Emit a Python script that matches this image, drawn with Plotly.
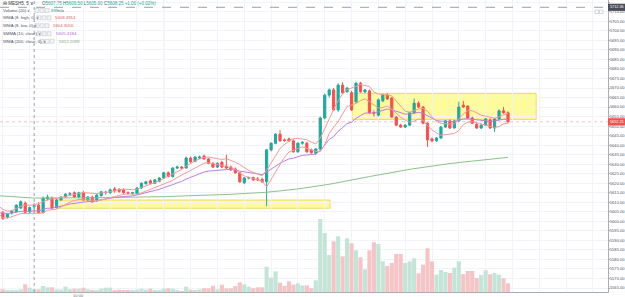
import plotly.graph_objects as go

# ---------------- data ----------------
symbol = "MESH5, 5"
bar_index = list(range(115))

opens = [
    5607.0, 5604.5, 5602.25, 5604.5, 5605.0, 5607.0, 5609.5, 5605.0, 5607.75, 5608.5,
    5604.75, 5611.75, 5612.25, 5607.25, 5611.25, 5612.75, 5614.25, 5615.0, 5612.75, 5615.0,
    5611.25, 5612.75, 5610.75, 5613.5, 5615.0, 5615.0, 5617.0, 5616.5, 5616.5, 5615.0,
    5614.75, 5614.5, 5617.5, 5619.75, 5621.25, 5620.0, 5621.0, 5622.75, 5625.5, 5623.5,
    5628.0, 5628.5, 5628.0, 5633.25, 5631.5, 5633.25, 5634.25, 5632.75, 5630.5, 5628.5,
    5631.0, 5629.0, 5628.5, 5627.5, 5625.5, 5620.25, 5622.75, 5623.0, 5622.25, 5622.0,
    5620.75, 5637.5, 5641.0, 5645.75, 5642.75, 5643.25, 5642.25, 5636.5, 5641.0, 5641.0,
    5637.5, 5635.75, 5638.0, 5654.25, 5666.25, 5669.0, 5658.5, 5671.5, 5668.0, 5667.5,
    5662.75, 5672.5, 5668.0, 5668.5, 5657.0, 5655.75, 5663.25, 5666.25, 5664.75, 5654.75,
    5650.5, 5649.5, 5650.5, 5657.0, 5662.0, 5660.0, 5651.5, 5643.25, 5642.25, 5643.75,
    5649.5, 5652.75, 5649.0, 5652.75, 5661.0, 5660.5, 5654.25, 5651.0, 5649.0, 5650.5,
    5653.25, 5649.0, 5653.75, 5658.0, 5657.0]

highs = [
    5608.0, 5605.5, 5604.25, 5606.0, 5609.0, 5611.0, 5610.5, 5607.75, 5609.5, 5610.0,
    5613.0, 5614.0, 5613.0, 5611.75, 5613.25, 5614.75, 5615.25, 5615.75, 5615.5, 5616.0,
    5613.25, 5613.5, 5614.5, 5616.0, 5616.0, 5617.25, 5618.0, 5617.5, 5617.25, 5615.75,
    5615.5, 5618.0, 5620.5, 5621.25, 5622.0, 5622.25, 5623.25, 5626.0, 5626.25, 5628.5,
    5629.25, 5629.0, 5634.0, 5634.0, 5634.25, 5634.5, 5635.0, 5633.25, 5631.0, 5631.0,
    5631.75, 5635.0, 5629.25, 5628.25, 5626.0, 5623.25, 5623.5, 5623.5, 5623.25, 5623.0,
    5638.0, 5641.5, 5646.25, 5648.0, 5643.5, 5644.0, 5643.0, 5641.5, 5642.0, 5641.75,
    5638.25, 5638.5, 5655.0, 5667.0, 5669.75, 5670.0, 5672.5, 5673.0, 5670.5, 5668.5,
    5673.25, 5673.25, 5669.5, 5669.25, 5658.25, 5664.5, 5667.0, 5667.25, 5665.25, 5655.25,
    5651.25, 5651.0, 5657.5, 5664.5, 5663.0, 5660.5, 5652.0, 5644.0, 5644.25, 5650.0,
    5653.25, 5653.5, 5653.25, 5662.75, 5663.25, 5661.0, 5655.0, 5651.5, 5651.0, 5654.25,
    5654.0, 5654.25, 5658.75, 5660.0, 5657.75]

lows = [
    5604.0, 5600.75, 5601.5, 5603.5, 5604.5, 5606.5, 5604.0, 5604.25, 5605.0, 5604.0,
    5604.0, 5611.0, 5606.5, 5606.75, 5610.75, 5612.25, 5613.5, 5612.25, 5612.0, 5610.75,
    5610.5, 5609.75, 5610.25, 5613.0, 5614.0, 5614.5, 5615.0, 5615.0, 5614.5, 5614.25,
    5614.0, 5614.0, 5617.0, 5619.25, 5619.5, 5619.5, 5620.5, 5622.25, 5623.0, 5623.0,
    5627.5, 5627.5, 5627.75, 5630.75, 5631.0, 5632.75, 5632.25, 5630.0, 5628.0, 5628.0,
    5628.0, 5627.5, 5626.5, 5625.0, 5620.25, 5619.5, 5622.0, 5621.25, 5621.25, 5620.25,
    5608.0, 5636.75, 5640.5, 5641.75, 5641.75, 5641.5, 5636.0, 5636.0, 5640.25, 5636.0,
    5635.5, 5635.0, 5637.0, 5653.5, 5665.0, 5658.0, 5657.5, 5667.0, 5667.5, 5658.0,
    5662.0, 5667.5, 5667.25, 5656.5, 5655.0, 5655.0, 5662.5, 5663.75, 5654.25, 5650.0,
    5649.0, 5649.0, 5650.0, 5656.5, 5659.5, 5651.0, 5639.0, 5641.5, 5641.75, 5643.25,
    5649.0, 5648.5, 5648.75, 5652.25, 5659.5, 5653.75, 5651.0, 5648.5, 5648.5, 5650.0,
    5648.5, 5647.0, 5653.25, 5656.5, 5651.75]

closes = [
    5604.5, 5601.5, 5603.75, 5605.5, 5608.5, 5610.25, 5604.75, 5607.25, 5608.25, 5604.5,
    5612.25, 5612.75, 5607.0, 5611.25, 5612.75, 5614.25, 5614.5, 5612.75, 5615.0, 5611.25,
    5612.75, 5610.25, 5613.75, 5615.5, 5615.25, 5616.5, 5616.0, 5615.75, 5615.0, 5614.75,
    5615.0, 5617.5, 5620.0, 5620.75, 5620.0, 5621.75, 5622.75, 5625.5, 5623.5, 5628.0,
    5628.5, 5628.0, 5633.25, 5631.25, 5633.75, 5633.75, 5632.75, 5630.5, 5628.5, 5630.5,
    5628.5, 5628.0, 5627.0, 5625.5, 5620.75, 5622.75, 5623.0, 5621.75, 5621.75, 5620.75,
    5637.5, 5641.0, 5645.75, 5642.25, 5642.5, 5642.25, 5636.5, 5641.0, 5641.5, 5636.5,
    5636.0, 5638.0, 5654.25, 5666.25, 5669.0, 5658.5, 5671.5, 5667.5, 5670.0, 5658.5,
    5672.5, 5668.0, 5669.0, 5657.0, 5656.75, 5663.75, 5666.25, 5664.25, 5654.75, 5650.5,
    5649.5, 5650.5, 5657.0, 5662.0, 5660.0, 5651.5, 5642.75, 5642.25, 5643.75, 5649.5,
    5652.75, 5649.0, 5652.75, 5660.0, 5660.0, 5654.25, 5651.5, 5649.0, 5650.5, 5653.75,
    5649.0, 5653.75, 5658.0, 5657.0, 5652.25]

volumes = [
    1100, 888, 555, 555, 666, 888, 2553, 1443, 899, 888,
    1998, 1554, 1554, 888, 777, 1776, 888, 1110, 1110, 1443,
    888, 555, 666, 1110, 1443, 1443, 555, 777, 666, 666,
    666, 777, 1110, 777, 1110, 555, 555, 1110, 1221, 1110,
    666, 333, 1776, 777, 555, 888, 1221, 1221, 2109, 888,
    2442, 1221, 1221, 1998, 3219, 2553, 1776, 1221, 1554, 1554,
    8436, 4773, 6882, 3108, 1998, 3552, 2442, 2886, 2220, 2220,
    1221, 3885, 24309, 19647, 12321, 16872, 18537, 11877, 17871, 16206,
    13875, 11544, 7548, 13875, 16539, 15984, 10212, 8658, 9657, 12654,
    12654, 9657, 10212, 11211, 6216, 9102, 14541, 10212, 5772, 7326,
    6660, 6327, 8103, 10212, 5994, 6993, 6993, 4662, 5661, 7215,
    5883, 6327, 5772, 4551, 2886]

# WMA(200, close) at a few bars
wma200_idx = [0, 8, 22, 37, 52, 60, 67, 74, 83, 92, 101, 114]
wma200_val = [5613.45, 5612.21, 5612.4, 5612.95, 5614.2, 5615.25, 5617.0,
              5619.45, 5623.5, 5627.3, 5630.35, 5633.6]

price_ticks = [5565, 5570, 5575, 5580, 5585, 5590, 5595, 5600, 5605, 5610,
               5615, 5620, 5625, 5630, 5635, 5640, 5645, 5650, 5655, 5660,
               5665, 5670, 5675, 5680, 5685, 5690, 5695, 5700, 5705, 5710, 5715]

cursor_bar = 8
cursor_price = 5712.36
legend_ohlc = ("5607.75", "5609.50", "5605.00", "5608.25", "+1.00 (+0.02%)")
legend_volume = "899"
legend_wma8h = "5608.4914"
legend_wma8l = "5604.3056"
legend_smma10 = "5605.4184"
legend_wma200 = "5612.2099"
time_label = "10:00"

n = len(bar_index)
assert all(len(a) == n for a in (opens, highs, lows, closes, volumes))

# ---------------- indicators ----------------
def wma(vals, length):
    out = []
    for i in range(len(vals)):
        w = vals[max(0, i - length + 1): i + 1]
        ws = list(range(1, len(w) + 1))
        out.append(sum(a * b for a, b in zip(w, ws)) / sum(ws))
    return out

def smma(vals, length):
    out = []
    s = vals[0]
    for v in vals:
        s = (s * (length - 1) + v) / length
        out.append(s)
    return out

wma8h = wma(highs, 8)
wma8l = wma(lows, 8)
smma10 = smma(closes, 10)

# ---------------- geometry helpers ----------------
W, H = 625, 297
PW, PH = 608, 292
YMIN, YMAX = 5562.9, 5716.2
XMIN, XMAX = 0.358, 136.37

def px(xp):
    return xp / PW

def py(yp):
    return 1 - yp / PH

def price_to_paper(p):
    return (p - YMIN) / (YMAX - YMIN)

GREEN = "#26a69a"
RED = "#ef5350"
vol_colors = ["#c3e4d6" if c >= o else "#f5c4c7" for o, c in zip(opens, closes)]

fig = go.Figure()

fig.add_trace(go.Bar(x=bar_index, y=volumes, yaxis="y2", marker=dict(color=vol_colors, line=dict(width=0)),
                     hoverinfo="skip", showlegend=False))

fig.add_trace(go.Scatter(x=wma200_idx, y=wma200_val, mode="lines",
                         line=dict(color="#8cc28c", width=1), hoverinfo="skip", showlegend=False))
fig.add_trace(go.Scatter(x=bar_index, y=smma10, mode="lines",
                         line=dict(color="#c07ddc", width=1), hoverinfo="skip", showlegend=False))
fig.add_trace(go.Scatter(x=bar_index, y=wma8h, mode="lines",
                         line=dict(color="#f19a9a", width=1), hoverinfo="skip", showlegend=False))
fig.add_trace(go.Scatter(x=bar_index, y=wma8l, mode="lines",
                         line=dict(color="#f19a9a", width=1), hoverinfo="skip", showlegend=False))

fig.add_trace(go.Candlestick(
    x=bar_index, open=opens, high=highs, low=lows, close=closes,
    increasing=dict(line=dict(color=GREEN, width=1), fillcolor=GREEN),
    decreasing=dict(line=dict(color=RED, width=1), fillcolor=RED),
    whiskerwidth=0, hoverinfo="skip", showlegend=False))

shapes = []
# yellow zones
shapes.append(dict(type="rect", xref="x", yref="y", x0=13.1, x1=74.2, y0=5606.85, y1=5611.2,
                   fillcolor="rgba(255,244,80,0.55)", line=dict(color="rgba(225,205,60,0.7)", width=1), layer="below"))
shapes.append(dict(type="rect", xref="x", yref="y", x0=79.1, x1=120.3, y0=5653.5, y1=5667.2,
                   fillcolor="rgba(255,244,80,0.55)", line=dict(color="rgba(225,205,60,0.7)", width=1), layer="below"))
# session lines
for sx in (13, 37, 79):
    shapes.append(dict(type="line", xref="x", yref="paper", x0=sx, x1=sx, y0=0, y1=1,
                       line=dict(color="rgba(140,190,230,0.35)", width=1), layer="below"))
# last price line
shapes.append(dict(type="line", xref="paper", yref="y", x0=0, x1=1, y0=closes[-1], y1=closes[-1],
                   line=dict(color="rgba(239,83,80,0.35)", width=1, dash="dot")))
# crosshair
shapes.append(dict(type="line", xref="x", yref="paper", x0=cursor_bar, x1=cursor_bar, y0=0, y1=1,
                   line=dict(color="#9aa0aa", width=1, dash="dot")))
shapes.append(dict(type="line", xref="paper", yref="y", x0=0, x1=1, y0=cursor_price, y1=cursor_price,
                   line=dict(color="#9aa0aa", width=1, dash="dash")))

FONT = "Liberation Sans, Arial, sans-serif"
TXT = "#50535e"
AXFONT = 4.1

annotations = []
# price labels on the axis
for p, col, txt in ((cursor_price, "#4a4e58", f"{cursor_price:.2f}"),
                    (closes[-1], RED, f"{closes[-1]:.2f}")):
    yc = price_to_paper(p)
    shapes.append(dict(type="rect", xref="paper", yref="paper", x0=1.0, x1=W / PW,
                       y0=yc - 3.6 / PH, y1=yc + 3.6 / PH, fillcolor=col, line=dict(width=0)))
    annotations.append(dict(xref="paper", yref="paper", x=px(608.6), y=yc, text=txt, showarrow=False,
                            xanchor="left", yanchor="middle", borderpad=0,
                            font=dict(size=3.8, color="white", family=FONT)))

# tiny icons at top right
for x0 in (595, 599.5):
    shapes.append(dict(type="rect", xref="paper", yref="paper", x0=px(x0), x1=px(x0 + 3.5),
                       y0=py(13.5), y1=py(10), line=dict(color="#b8bcc6", width=0.6), fillcolor="white"))


def label(x, y, text, color=TXT, size=4.3):
    annotations.append(dict(xref="paper", yref="paper", x=px(x), y=py(y), text=text, showarrow=False,
                            xanchor="left", yanchor="middle", font=dict(size=size, color=color, family=FONT)))

def icons(x0, y):
    for k in range(3):
        xa = x0 + k * 5
        shapes.append(dict(type="rect", xref="paper", yref="paper", x0=px(xa), x1=px(xa + 4),
                           y0=py(y + 2), y1=py(y - 2), line=dict(color="#c4c7cf", width=0.6),
                           fillcolor="#f3f4f6"))

o, h, l, c, chg = legend_ohlc
label(1, 3.5, "⊟ " + symbol + " ∨", color="#333", size=4.5)
g = GREEN
label(40, 3.5, f'O<span style="color:{g}">{o}</span> H<span style="color:{g}">{h}</span> '
               f'L<span style="color:{g}">{l}</span> C<span style="color:{g}">{c}</span> '
               f'<span style="color:{g}">{chg}</span>', size=4.5)
label(1, 10.5, "Volume (20) ∨")
icons(35, 10.5)
label(49, 10.5, legend_volume, color=GREEN)
label(56, 10.5, "n/a")
label(1, 17.8, "WMA (8, high, 0) ∨")
icons(37, 17.8)
label(53, 17.8, legend_wma8h, color="#e05a5a")
label(1, 25.7, "WMA (8, low, 0) ∨")
icons(35, 25.7)
label(51, 25.7, legend_wma8l, color="#e05a5a")
label(1, 33.7, "SMMA (10, close) ∨")
icons(37, 33.7)
label(54, 33.7, legend_smma10, color="#b46ad8")
label(1, 41.3, "WMA (200, close, 0) ∨")
icons(40, 41.3)
label(57, 41.3, legend_wma200, color="#8aa08a")

# time label at the bottom
annotations.append(dict(xref="x", yref="paper", x=18, y=py(295.5), text=time_label, showarrow=False,
                        xanchor="center", yanchor="middle", font=dict(size=AXFONT, color="#777", family=FONT)))

fig.update_layout(
    width=W, height=H,
    margin=dict(l=0, r=W - PW, t=0, b=H - PH, pad=0),
    paper_bgcolor="white", plot_bgcolor="white",
    showlegend=False, bargap=0.08, boxgap=0.3,
    shapes=shapes, annotations=annotations,
    font=dict(family=FONT),
    xaxis=dict(range=[XMIN, XMAX], showgrid=True, gridcolor="#f1f3f8", gridwidth=1,
               tick0=1, dtick=6, showticklabels=False, ticks="", zeroline=False,
               showline=True, linecolor="#a9adb6", linewidth=1, rangeslider=dict(visible=False),
               fixedrange=True),
    yaxis=dict(range=[YMIN, YMAX], side="right", tickvals=price_ticks,
               ticktext=[f"{t:.2f}" for t in price_ticks], showgrid=True, gridcolor="#f1f3f8",
               zeroline=False, showline=True, linecolor="#a9adb6", linewidth=1,
               ticks="outside", ticklen=1, tickcolor="#a9adb6", ticklabelstandoff=-1,
               tickfont=dict(size=AXFONT, color="#50535e", family=FONT), automargin=False,
               fixedrange=True),
    yaxis2=dict(overlaying="y", range=[0, 292 * 333], visible=False, fixedrange=True),
)

fig.write_html("out.html")
